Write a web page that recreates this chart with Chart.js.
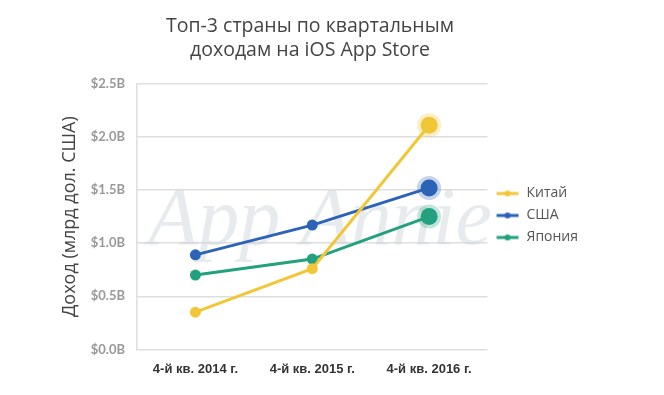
<!DOCTYPE html>
<html>
<head>
<meta charset="utf-8">
<script src="https://cdn.jsdelivr.net/npm/chart.js@4/dist/chart.umd.min.js"></script>
<style>
  html, body { margin: 0; padding: 0; background: #fff; }
  #wrap { width: 664px; height: 395px; position: relative; }
</style>
</head>
<body>
<div id="wrap"><canvas id="chart"></canvas></div>
<script>
// data
const quarters = ["4-й кв. 2014 г.", "4-й кв. 2015 г.", "4-й кв. 2016 г."];
const china = [0.35, 0.76, 2.11];
const usa = [0.89, 1.17, 1.52];
const japan = [0.70, 0.85, 1.25];
const seriesNames = ["Китай", "США", "Япония"];
const colors = ["#F2C737", "#2C63B7", "#23A07E"];
const halos = ["rgba(242,199,55,0.28)", "rgba(44,99,183,0.28)", "rgba(35,160,126,0.28)"];

// small line+dot icon for the legend
function legendIcon(color) {
  const c = document.createElement("canvas");
  c.width = 24;
  c.height = 8;
  const g = c.getContext("2d");
  g.strokeStyle = color;
  g.lineWidth = 3;
  g.beginPath();
  g.moveTo(1, 4);
  g.lineTo(23, 4);
  g.stroke();
  g.fillStyle = color;
  g.beginPath();
  g.arc(12, 4, 3, 0, Math.PI * 2);
  g.fill();
  return c;
}

const makeSet = (label, values, i) => ({
  label: label,
  data: values,
  borderColor: colors[i],
  backgroundColor: colors[i],
  borderWidth: 3,
  pointRadius: values.map((_, k) => (k === values.length - 1 ? 8.5 : 5.5)),
  pointBorderWidth: values.map((_, k) => (k === values.length - 1 ? 7 : 0)),
  pointBorderColor: values.map((_, k) => (k === values.length - 1 ? halos[i] : colors[i])),
  pointBackgroundColor: colors[i],
  tension: 0
});

// faint watermark behind the lines
const watermark = {
  id: "watermark",
  beforeDatasetsDraw(chart) {
    const ctx = chart.ctx;
    ctx.save();
    ctx.font = "italic 82px 'Liberation Serif', serif";
    ctx.fillStyle = "rgba(205,210,217,0.45)";
    ctx.textAlign = "center";
    ctx.textBaseline = "alphabetic";
    ctx.fillText("App Annie", 320, 244);
    ctx.restore();
  }
};

new Chart(document.getElementById("chart"), {
  type: "line",
  data: {
    labels: quarters,
    datasets: [
      makeSet(seriesNames[0], china, 0),
      makeSet(seriesNames[1], usa, 1),
      makeSet(seriesNames[2], japan, 2)
    ]
  },
  plugins: [watermark],
  options: {
    responsive: true,
    maintainAspectRatio: false,
    animation: false,
    layout: { padding: { left: 32, right: 76, top: 4, bottom: 6 } },
    plugins: {
      title: {
        display: true,
        text: ["Топ-3 страны по квартальным", "доходам на iOS App Store"],
        color: "#444",
        font: { family: "Open Sans", size: 19.5, weight: "normal" },
        padding: { top: 11, bottom: 22 },
        lineHeight: 1.3
      },
      legend: {
        position: "right",
        align: "center",
        // empty title only pushes the items down a little
        title: {
          display: true,
          text: " ",
          font: { size: 10 },
          padding: { top: 13, bottom: 13 }
        },
        labels: {
          usePointStyle: true,
          pointStyleWidth: 24,
          color: "#555",
          font: { family: "Open Sans", size: 14 },
          padding: 8,
          generateLabels: (chart) =>
            chart.data.datasets.map((ds, i) => ({
              text: ds.label,
              pointStyle: legendIcon(colors[i]),
              fillStyle: colors[i],
              strokeStyle: colors[i],
              lineWidth: 0,
              fontColor: "#555",
              datasetIndex: i
            }))
        }
      },
      tooltip: { enabled: false }
    },
    scales: {
      x: {
        offset: true,
        grid: { display: false, drawTicks: false },
        border: { display: false },
        ticks: {
          color: "#333",
          font: { family: "Liberation Sans", size: 13, weight: "bold" },
          padding: 12,
          maxRotation: 0
        }
      },
      y: {
        min: 0,
        max: 2.5,
        afterFit: (scale) => { scale.width = 105; },
        grid: { color: "#dedede", lineWidth: 1.5, drawTicks: false },
        border: { display: true, color: "#dedede", width: 1.5 },
        ticks: {
          stepSize: 0.5,
          padding: 12,
          color: "#999",
          font: { family: "Lato", size: 13, weight: "bold" },
          callback: (v) => "$" + v.toFixed(1) + "B"
        },
        title: {
          display: true,
          text: "Доход (млрд дол. США)",
          color: "#444",
          font: { family: "Open Sans", size: 18 },
          padding: { top: 27, bottom: 0 }
        }
      }
    }
  }
});
</script>
</body>
</html>
